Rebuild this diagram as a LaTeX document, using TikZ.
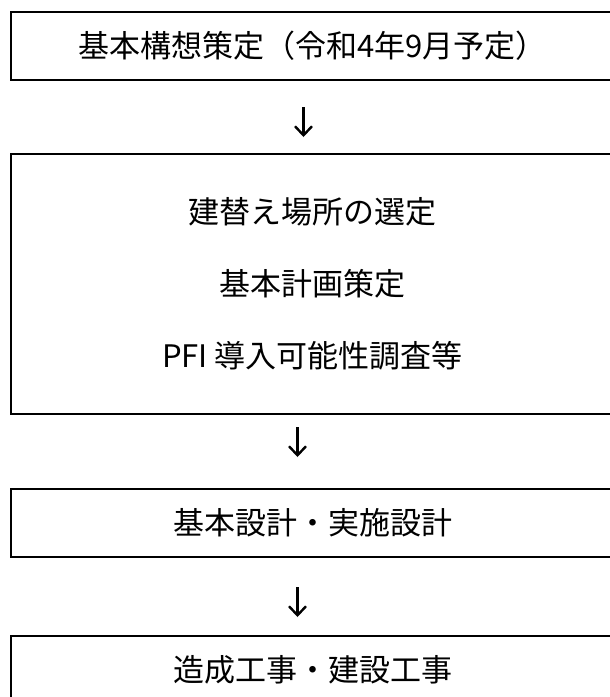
\documentclass[tikz,border=0pt]{standalone}
\usepackage{fontspec}
\newfontfamily\jpfont{Noto Sans CJK JP}
\usepackage{tikz}
\usetikzlibrary{arrows.meta,positioning}

\begin{document}
\begin{tikzpicture}[
  x=1pt, y=-1pt,
  stagebox/.style={rectangle, draw, line width=2pt, minimum width=603pt, align=center,
    inner sep=0pt, font=\jpfont\fontsize{31}{72}\selectfont},
  flow/.style={line width=2.6pt, -{Straight Barb[length=9pt,width=17pt,line width=2.4pt]}}
]
\useasboundingbox (0,0) rectangle (610,697);

\node[stagebox, minimum height=68pt, anchor=north west] (kousou) at (10,11)
  {基本構想策定（令和4年9月予定）};
\node[stagebox, minimum height=260pt, anchor=north west] (keikaku) at (10,153)
  {建替え場所の選定\\基本計画策定\\PFI 導入可能性調査等};
\node[stagebox, minimum height=68pt, anchor=north west] (sekkei) at (10,488)
  {基本設計・実施設計};
\node[stagebox, minimum height=68pt, anchor=north west] (kouji) at (10,635)
  {造成工事・建設工事};

\draw[flow] ([xshift=-9pt,yshift=-26pt]kousou.south) -- ([xshift=-9pt,yshift=16pt]keikaku.north);
\draw[flow] ([xshift=-15pt,yshift=-12pt]keikaku.south) -- ([xshift=-15pt,yshift=31pt]sekkei.north);
\draw[flow] ([xshift=-15pt,yshift=-29pt]sekkei.south) -- ([xshift=-15pt,yshift=18pt]kouji.north);

\end{tikzpicture}
\end{document}
